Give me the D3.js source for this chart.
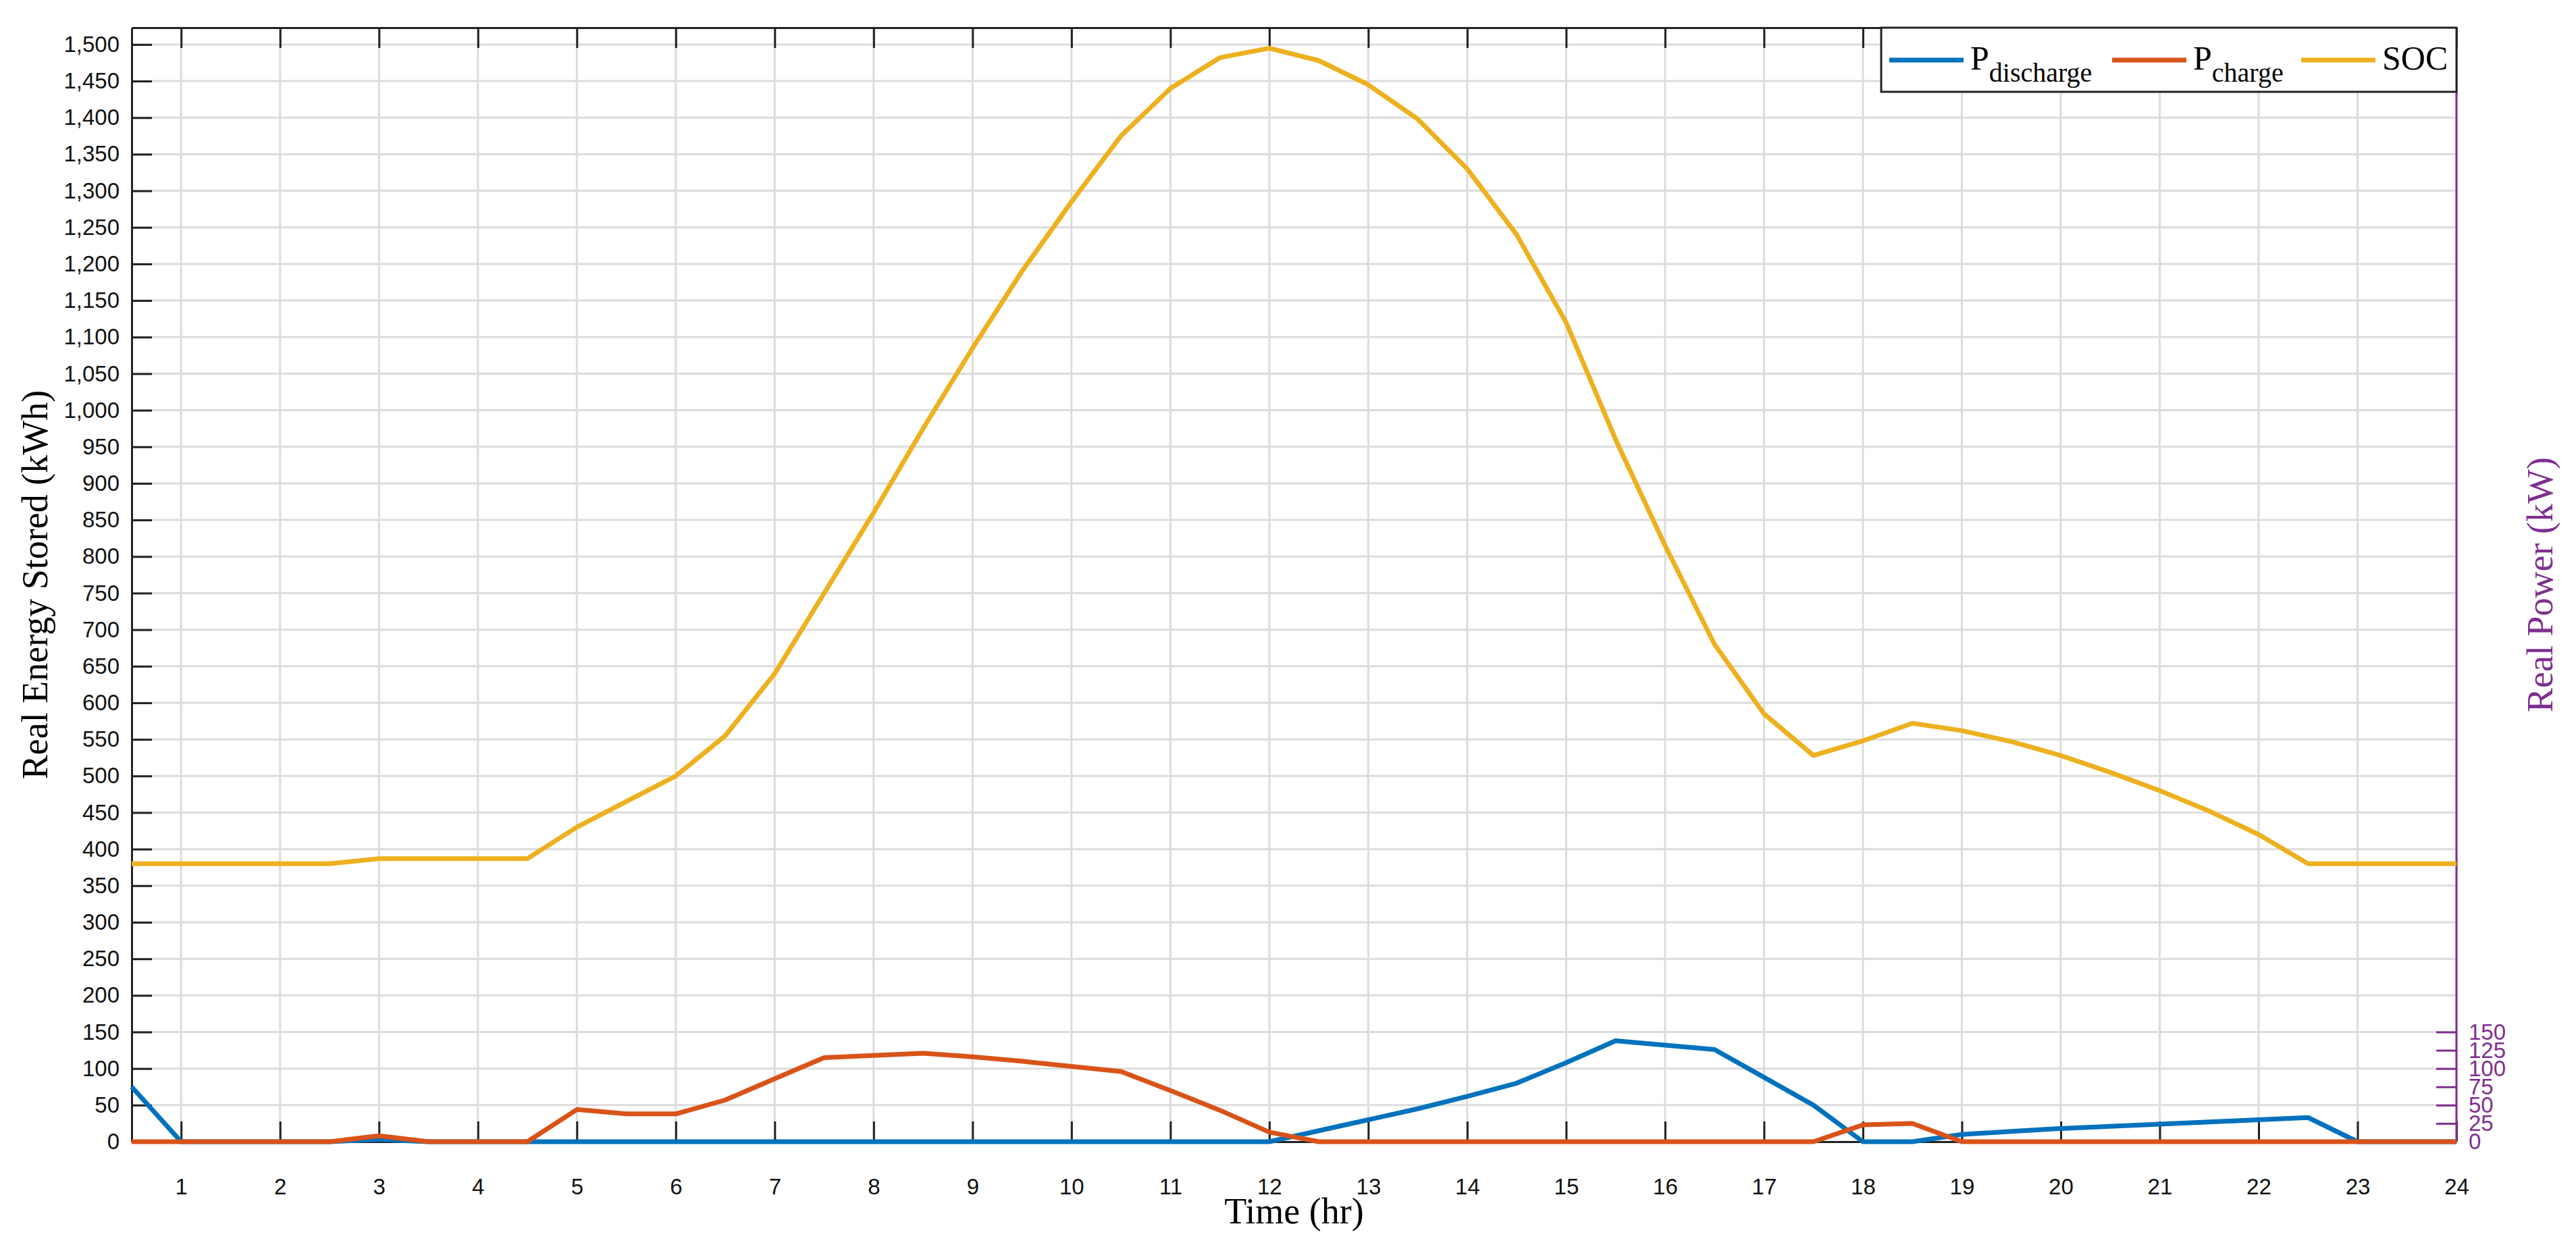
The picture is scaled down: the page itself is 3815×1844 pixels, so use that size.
<!DOCTYPE html>
<html lang="en">
<head>
  <meta charset="UTF-8">
  <title>Battery SOC and Power</title>
  <script src="https://d3js.org/d3.v7.min.js"></script>
  <style>
    body { margin: 0; background: #fff; }
    svg { display: block; }
  </style>
</head>
<body>
  <svg width="3815" height="1844"></svg>
  <script>
  // half-hour steps from 0.5 to 24
  const hours = d3.range(1, 49).map(d => d / 2);
  const soc = [380, 380, 380, 380, 380, 387, 387, 387, 387, 430, 465, 500, 555, 640, 750, 860,
    975, 1085, 1190, 1285, 1375, 1440, 1482, 1495, 1478, 1445, 1398, 1330, 1240, 1120, 960, 815,
    680, 585, 528, 548, 572, 562, 547, 528, 505, 480, 452, 420, 380, 380, 380, 380];
  const pCharge = [0, 0, 0, 0, 0, 8, 0, 0, 0, 44, 38, 38, 57, 86, 115, 118,
    121, 116, 110, 103, 96, 70, 43, 13, 0, 0, 0, 0, 0, 0, 0, 0,
    0, 0, 0, 23, 25, 0, 0, 0, 0, 0, 0, 0, 0, 0, 0, 0];
  const pDischarge = [75, 0, 0, 0, 0, 3, 0, 0, 0, 0, 0, 0, 0, 0, 0, 0,
    0, 0, 0, 0, 0, 0, 0, 0, 15, 30, 45, 62, 80, 108, 138, 132,
    126, 88, 50, 0, 0, 10, 14, 18, 21, 24, 27, 30, 33, 0, 0, 0];
  const xTicks = d3.range(1, 25);
  const leftTicks = d3.range(0, 1501, 50);
  const rightTicks = [0, 25, 50, 75, 100, 125, 150];

  const svg = d3.select("svg");
  const pLeft = 195, pRight = 3638, pTop = 41, pBottom = 1691;
  const x = d3.scaleLinear().domain([0.5, 24]).range([pLeft, pRight]);
  const y = d3.scaleLinear().domain([0, 1523]).range([pBottom, pTop]);

  const grid = "#dcdcdc";
  svg.append("g").selectAll("line").data(xTicks).join("line")
    .attr("x1", d => x(d)).attr("x2", d => x(d)).attr("y1", pTop).attr("y2", pBottom)
    .attr("stroke", grid).attr("stroke-width", 3);
  svg.append("g").selectAll("line").data(leftTicks).join("line")
    .attr("x1", pLeft).attr("x2", pRight).attr("y1", d => y(d)).attr("y2", d => y(d))
    .attr("stroke", grid).attr("stroke-width", 3);

  // x axis (bottom + top ticks inward)
  const xb = svg.append("g").attr("transform", `translate(0,${pBottom})`)
    .call(d3.axisBottom(x).tickValues(xTicks).tickSizeInner(-30).tickSizeOuter(0).tickPadding(55));
  const xt = svg.append("g").attr("transform", `translate(0,${pTop})`)
    .call(d3.axisTop(x).tickValues(xTicks).tickSizeInner(-30).tickSizeOuter(0).tickFormat(""));
  const yl = svg.append("g").attr("transform", `translate(${pLeft},0)`)
    .call(d3.axisLeft(y).tickValues(leftTicks).tickSizeInner(-30).tickSizeOuter(0).tickPadding(18));
  [xb, xt, yl].forEach(g => {
    g.selectAll("path").attr("stroke", "#222").attr("stroke-width", 3);
    g.selectAll(".tick line").attr("stroke", "#222").attr("stroke-width", 3);
    g.selectAll("text").attr("font-family", "Liberation Sans, Arial").attr("font-size", 33).attr("fill", "#111");
  });

  const purple = "#7E2F8E";
  const yr = svg.append("g").attr("transform", `translate(${pRight},0)`)
    .call(d3.axisRight(y).tickValues(rightTicks).tickSizeInner(-30).tickSizeOuter(0).tickPadding(18));
  yr.select("path").remove();
  yr.selectAll(".tick line").attr("stroke", purple).attr("stroke-width", 3);
  yr.selectAll("text").attr("font-family", "Liberation Sans, Arial").attr("font-size", 33).attr("fill", purple);
  svg.append("line").attr("x1", pRight).attr("x2", pRight).attr("y1", pTop).attr("y2", pBottom)
    .attr("stroke", purple).attr("stroke-width", 3);

  const series = [
    { name: "discharge", values: pDischarge, color: "#0072BD" },
    { name: "charge", values: pCharge, color: "#D95319" },
    { name: "SOC", values: soc, color: "#EDB120" }
  ];
  const line = d3.line().x((d, i) => x(hours[i])).y(d => y(d));
  series.forEach(s => {
    svg.append("path").datum(s.values).attr("d", line)
      .attr("fill", "none").attr("stroke", s.color).attr("stroke-width", 7)
      .attr("stroke-linejoin", "round");
  });

  // labels
  svg.append("text").attr("x", (pLeft + pRight) / 2).attr("y", 1812).attr("text-anchor", "middle")
    .attr("font-family", "Liberation Serif, Times New Roman").attr("font-size", 54).text("Time (hr)");
  svg.append("text").attr("transform", `translate(70,${(pTop + pBottom) / 2}) rotate(-90)`)
    .attr("text-anchor", "middle").attr("font-family", "Liberation Serif, Times New Roman")
    .attr("font-size", 54).text("Real Energy Stored (kWh)");
  svg.append("text").attr("transform", `translate(3780,${(pTop + pBottom) / 2}) rotate(-90)`)
    .attr("text-anchor", "middle").attr("font-family", "Liberation Serif, Times New Roman")
    .attr("font-size", 54).attr("fill", purple).text("Real Power (kW)");

  // legend
  const lg = svg.append("g").attr("transform", "translate(2786,41)");
  lg.append("rect").attr("width", 852).attr("height", 95).attr("fill", "#fff")
    .attr("stroke", "#222").attr("stroke-width", 3);
  const items = [
    { color: "#0072BD", sub: "discharge", x0: 12 },
    { color: "#D95319", sub: "charge", x0: 342 },
    { color: "#EDB120", sub: null, x0: 622 }
  ];
  items.forEach(it => {
    lg.append("line").attr("x1", it.x0).attr("x2", it.x0 + 110).attr("y1", 48).attr("y2", 48)
      .attr("stroke", it.color).attr("stroke-width", 7);
    const t = lg.append("text").attr("x", it.x0 + 120).attr("y", 62)
      .attr("font-family", "Liberation Serif, Times New Roman").attr("font-size", 50);
    if (it.sub) {
      t.append("tspan").text("P");
      t.append("tspan").attr("dy", 18).attr("font-size", 40).text(it.sub);
    } else {
      t.text("SOC");
    }
  });
  </script>
</body>
</html>
